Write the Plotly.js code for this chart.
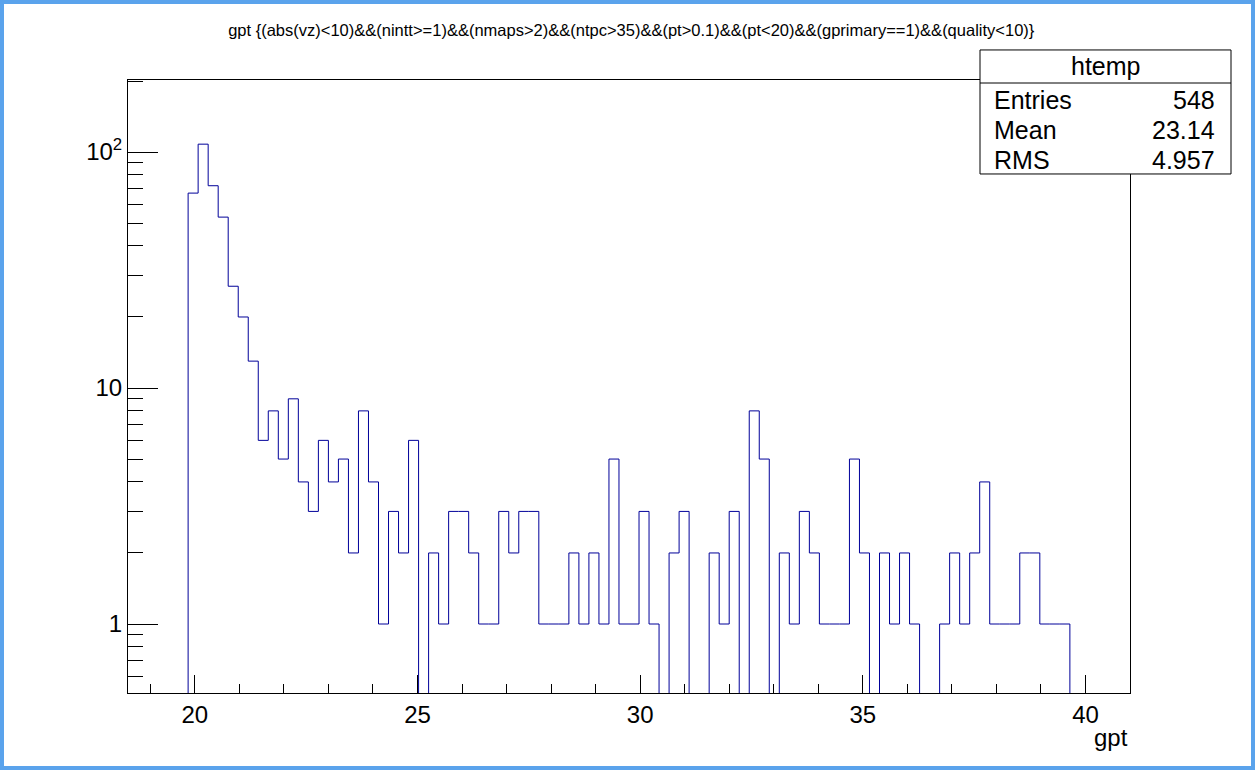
<!DOCTYPE html>
<html><head><meta charset="utf-8">
<script src="https://cdn.plot.ly/plotly-3.0.1.min.js"></script>
<style>
html,body{margin:0;padding:0;background:#5aa3ec;width:1255px;height:770px;overflow:hidden}
#chart{position:absolute;left:4px;top:4px;width:1247px;height:762px;background:#fff}
</style></head><body><div id="chart"></div>
<script>
// ---- data ----
const histName = 'htemp';
const xTitle = 'gpt';
const plotTitle = 'gpt {(abs(vz)<10)&&(nintt>=1)&&(nmaps>2)&&(ntpc>35)&&(pt>0.1)&&(pt<20)&&(gprimary==1)&&(quality<10)}';
const nBins = 100;
const xMin = 18.5;
const xMax = 41.0;
const counts = [
  0, 0, 0, 0, 0, 0, 67, 108, 72, 53,
  27, 20, 13, 6, 8, 5, 9, 4, 3, 6,
  4, 5, 2, 8, 4, 1, 3, 2, 6, 0,
  2, 1, 3, 3, 2, 1, 1, 3, 2, 3,
  3, 1, 1, 1, 2, 1, 2, 1, 5, 1,
  1, 3, 1, 0, 2, 3, 0, 0, 2, 1,
  3, 0, 8, 5, 0, 2, 1, 3, 2, 1,
  1, 1, 5, 2, 0, 2, 1, 2, 1, 0,
  0, 1, 2, 1, 2, 4, 1, 1, 1, 2,
  2, 1, 1, 1, 0, 0, 0, 0, 0, 0
];
const statLabels = ['Entries', 'Mean', 'RMS'];
const statValues = ['548', '23.14', '4.957'];
const xTickVals = [20, 25, 30, 35, 40];
const yTickVals = [1, 10, 100];
const yTickText = ['1', '10', '10<sup>2</sup>'];
const yMinorVals = [0.6, 0.7, 0.8, 0.9, 2, 3, 4, 5, 6, 7, 8, 9, 20, 30, 40, 50, 60, 70, 80, 90, 200];
const yRange = [0.51, 202];

// ---- build ----
function esc(s){return s.replace(/&/g,'&amp;').replace(/</g,'&lt;').replace(/>/g,'&gt;');}
const bw = (xMax - xMin) / nBins;
const floorVal = 0.05; // empty bins drawn below the visible log range (like ROOT)
const xs = [], ys = [];
for (let i = 0; i < nBins; i++) { xs.push(xMin + i * bw); ys.push(counts[i] > 0 ? counts[i] : floorVal); }
xs.push(xMax); ys.push(ys[ys.length - 1]);

const FONT = 'Liberation Sans, Arial, Helvetica, sans-serif';
const trace = {
  type: 'scatter', mode: 'lines', x: xs, y: ys,
  line: {shape: 'hv', color: '#000099', width: 1},
  hoverinfo: 'skip', showlegend: false
};

// stats box geometry (paper coords)
const bx0 = 0.8503, bx1 = 1.1008, by0 = 0.8467, by1 = 1.049, bsep = 0.9951;
const shapes = [
  {type:'rect', xref:'paper', yref:'paper', x0:bx0, x1:bx1, y0:by0, y1:by1, fillcolor:'#fff', line:{color:'#000', width:1}, layer:'above'},
  {type:'line', xref:'paper', yref:'paper', x0:bx0, x1:bx1, y0:bsep, y1:bsep, line:{color:'#000', width:1}, layer:'above'}
];
const statY = [0.9674, 0.9184, 0.8695];
const SF = 25;
const annotations = [
  {xref:'paper', yref:'paper', x:(bx0+bx1)/2, y:(bsep+by1)/2, text:histName, showarrow:false, xanchor:'center', yanchor:'middle', font:{family:FONT, size:SF, color:'#000'}},
  {xref:'paper', yref:'paper', x:1.0, y:-0.072, text:xTitle, showarrow:false, xanchor:'right', yanchor:'middle', font:{family:FONT, size:24, color:'#000'}}
];
statLabels.forEach((l, i) => {
  annotations.push({xref:'paper', yref:'paper', x:0.8623, y:statY[i], text:l, showarrow:false, xanchor:'left', yanchor:'middle', font:{family:FONT, size:SF, color:'#000'}});
  annotations.push({xref:'paper', yref:'paper', x:1.0868, y:statY[i], text:statValues[i], showarrow:false, xanchor:'right', yanchor:'middle', font:{family:FONT, size:SF, color:'#000'}});
});

const layout = {
  width: 1247, height: 762,
  margin: {l: 124, r: 121, t: 76, b: 73},
  paper_bgcolor: '#fff', plot_bgcolor: '#fff',
  title: {text: esc(plotTitle), x: 0.503, xref: 'container', y: 0.966, yref: 'container', xanchor: 'center', yanchor: 'middle',
          font: {family: FONT, size: 16.5, color: '#000'}},
  xaxis: {
    range: [xMin, xMax], showgrid: false, zeroline: false,
    showline: true, linecolor: '#000', linewidth: 1, mirror: true,
    ticks: 'inside', ticklen: 18, tickwidth: 1, tickcolor: '#000',
    tickmode: 'array', tickvals: xTickVals, ticktext: xTickVals.map(String),
    tickfont: {family: FONT, size: 24, color: '#000'},
    minor: {ticks: 'inside', ticklen: 9, tickwidth: 1, tickcolor: '#000', dtick: 1, tick0: 0, showgrid: false}
  },
  yaxis: {
    type: 'log', range: [Math.log10(yRange[0]), Math.log10(yRange[1])], showgrid: false, zeroline: false,
    showline: true, linecolor: '#000', linewidth: 1, mirror: true,
    ticks: 'inside', ticklen: 30, tickwidth: 1, tickcolor: '#000',
    tickmode: 'array', tickvals: yTickVals, ticktext: yTickText,
    tickfont: {family: FONT, size: 24, color: '#000'},
    minor: {ticks: 'inside', ticklen: 15, tickwidth: 1, tickcolor: '#000', tickmode: 'array', tickvals: yMinorVals, showgrid: false}
  },
  shapes: shapes,
  annotations: annotations,
  showlegend: false
};
Plotly.newPlot('chart', [trace], layout, {staticPlot: true, displayModeBar: false});
</script></body></html>
